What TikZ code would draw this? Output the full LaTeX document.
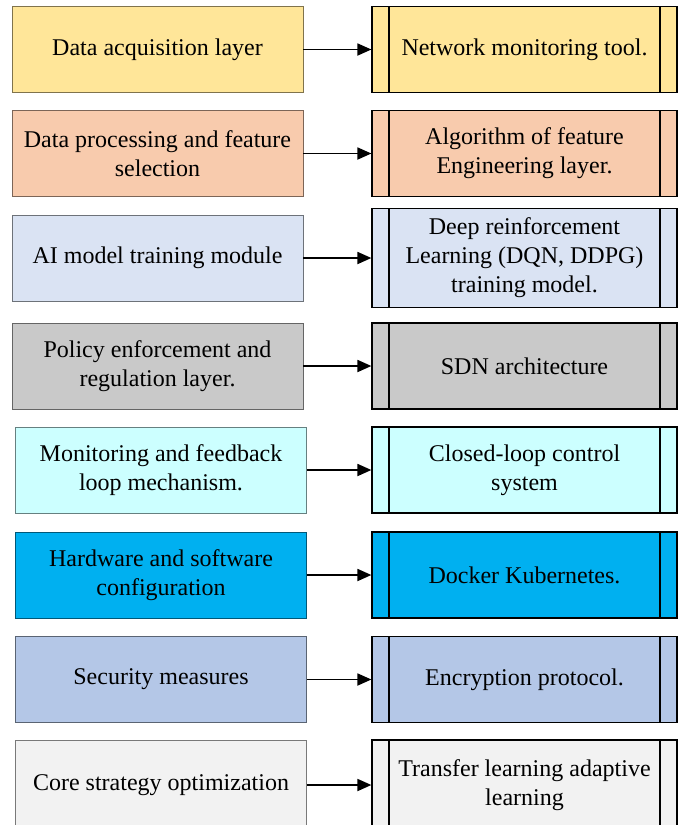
\documentclass[tikz,border=0pt]{standalone}
\usepackage{fontspec}
\setmainfont{Liberation Serif}
\usetikzlibrary{arrows.meta}
\definecolor{acqgold}{HTML}{FFE699}
\definecolor{procpeach}{HTML}{F8CBAD}
\definecolor{trainlav}{HTML}{DAE3F3}
\definecolor{policygray}{HTML}{C9C9C9}
\definecolor{monitcyan}{HTML}{CCFFFF}
\definecolor{hwblue}{HTML}{00B0F0}
\definecolor{secblue}{HTML}{B4C7E7}
\definecolor{corewhite}{HTML}{F2F2F2}

\begin{document}
\begin{tikzpicture}[
      x=1pt, y=-1pt,
      every node/.style={font=\fontsize{24}{29}\selectfont},
      layerbox/.style={draw=#1!50!black, fill=#1, line width=0.8pt, minimum width=291pt, minimum height=86pt, align=center, inner sep=2pt},
      toolbox/.style={draw, fill=#1, line width=1.2pt, minimum width=305pt, minimum height=86pt, align=center, inner sep=2pt,
        path picture={
          \draw[line width=1.2pt] ([xshift=17pt]path picture bounding box.north west) -- ([xshift=17pt]path picture bounding box.south west);
          \draw[line width=1.2pt] ([xshift=-17pt]path picture bounding box.north east) -- ([xshift=-17pt]path picture bounding box.south east);
        }},
      link/.style={->, line width=1.8pt},
      >={Triangle[length=14pt, width=12pt]},
    ]
    \clip (0,0) rectangle (678,825);

    % Data acquisition
    \node[layerbox=acqgold] (l1) at (157.5,49.5) {Data acquisition layer};
    \node[toolbox=acqgold] (r1) at (524.5,49.5) {Network monitoring tool.};

    % Feature selection
    \node[layerbox=procpeach] (l2) at (157.5,153.5) {Data processing and feature\\selection};
    \node[toolbox=procpeach] (r2) at (524.5,153.5) {Algorithm of feature\\Engineering layer.};

    % Model training
    \node[layerbox=trainlav] (l3) at (157.5,258) {AI model training module};
    \node[toolbox=trainlav, minimum height=99pt] (r3) at (524.5,258) {Deep reinforcement\\Learning (DQN, DDPG)\\training model.};

    % Policy enforcement
    \node[layerbox=policygray] (l4) at (157.5,366) {Policy enforcement and\\regulation layer.};
    \node[toolbox=policygray] (r4) at (524.5,366) {SDN architecture};

    % Feedback loop
    \node[layerbox=monitcyan] (l5) at (161,470) {Monitoring and feedback\\loop mechanism.};
    \node[toolbox=monitcyan] (r5) at (524.5,470) {Closed-loop control\\system};

    % Hardware / software
    \node[layerbox=hwblue] (l6) at (161,575) {Hardware and software\\configuration};
    \node[toolbox=hwblue] (r6) at (524.5,575) {Docker Kubernetes.};

    % Security
    \node[layerbox=secblue] (l7) at (161,679.5) {Security measures};
    \node[toolbox=secblue] (r7) at (524.5,679.5) {Encryption protocol.};

    % Core strategy
    \node[layerbox=corewhite, minimum height=90pt] (l8) at (161,785) {Core strategy optimization};
    \node[toolbox=corewhite, minimum height=90pt] (r8) at (524.5,785) {Transfer learning adaptive\\learning};

    % Arrows
    \foreach \i in {1,...,8}
      \draw[link] (l\i.east) -- (r\i.west);
  \end{tikzpicture}
\end{document}
